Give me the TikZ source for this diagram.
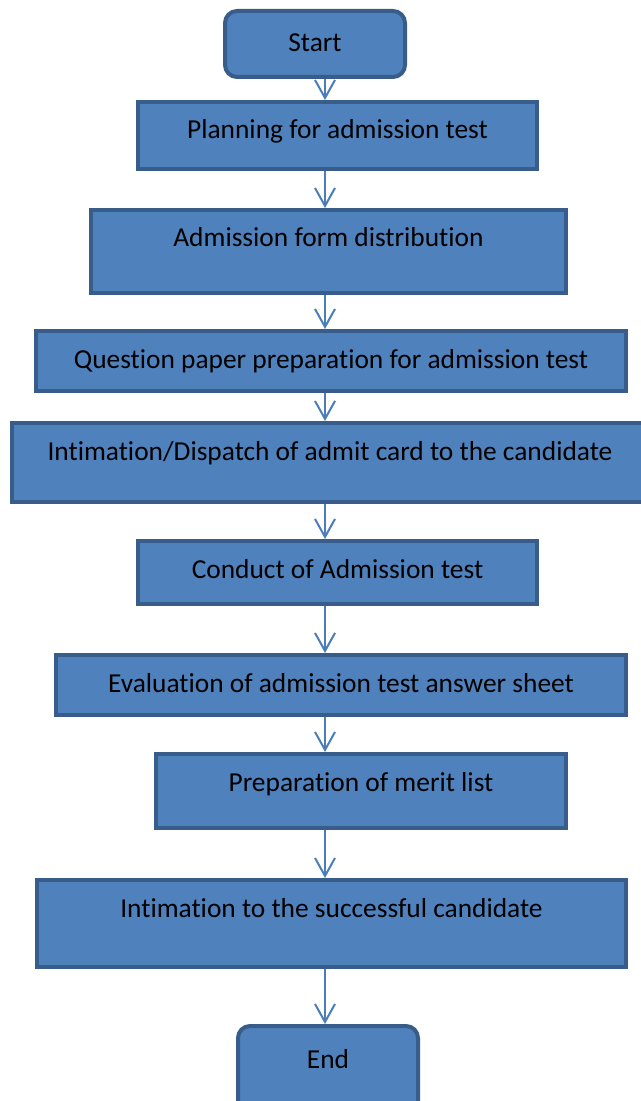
\documentclass[tikz,border=0pt]{standalone}
\usepackage{fontspec}
\setmainfont{Carlito}[Ligatures=NoCommon]
\usetikzlibrary{arrows.meta,positioning}
\definecolor{boxfill}{RGB}{79,129,189}
\definecolor{boxline}{RGB}{56,93,138}
\definecolor{flowline}{RGB}{74,126,187}

\begin{document}
\begin{tikzpicture}[x=0.5pt, y=-0.5pt,
  stepbox/.style={rectangle, draw=boxline, fill=boxfill, line width=2pt,
    inner sep=0pt, anchor=north, text height=18.5pt,
    font=\fontsize{13.7}{16}\selectfont},
  termbox/.style={stepbox, rounded corners=6pt},
  flow/.style={-{Straight Barb[length=9pt, width=10pt]}, flowline, line width=1pt}]
\useasboundingbox (0,0) rectangle (641,1101);

% Terminals and steps
\node[termbox, minimum width=90pt, text height=20.5pt, text depth=12.5pt] (start) at (315,9) {Start};
\node[stepbox, minimum width=199.5pt, text depth=15pt] (plan) at (337.5,100) {Planning for admission test};
\node[stepbox, minimum width=237.5pt, text depth=23pt] (form) at (328.5,208) {Admission form distribution};
\node[stepbox, minimum width=295pt, text depth=11.5pt] (paper) at (331,329) {Question paper preparation for admission test};
\node[stepbox, minimum width=318pt, text depth=21pt] (dispatch) at (330,421) {Intimation/Dispatch of admit card to the candidate};
\node[stepbox, minimum width=199.5pt, text depth=13pt] (conduct) at (337.5,539) {Conduct of Admission test};
\node[stepbox, minimum width=285pt, text depth=11.5pt] (evaluate) at (341,653) {Evaluation of admission test answer sheet};
\node[stepbox, minimum width=205pt, text depth=18.5pt] (merit) at (361,752) {Preparation of merit list};
\node[stepbox, minimum width=294.5pt, text depth=25pt] (notify) at (331.5,878) {Intimation to the successful candidate};
\node[termbox, minimum width=90pt, text height=21pt, text depth=24pt] (finish) at (328,1024) {End};

% Arrows along one vertical axis
\coordinate (axis) at (325,0);
\foreach \a/\b in {start/plan, plan/form, form/paper, paper/dispatch, dispatch/conduct,
  conduct/evaluate, evaluate/merit, merit/notify, notify/finish}
  \draw[flow] (\a.south -| axis) -- (\b.north -| axis);
\end{tikzpicture}
\end{document}
